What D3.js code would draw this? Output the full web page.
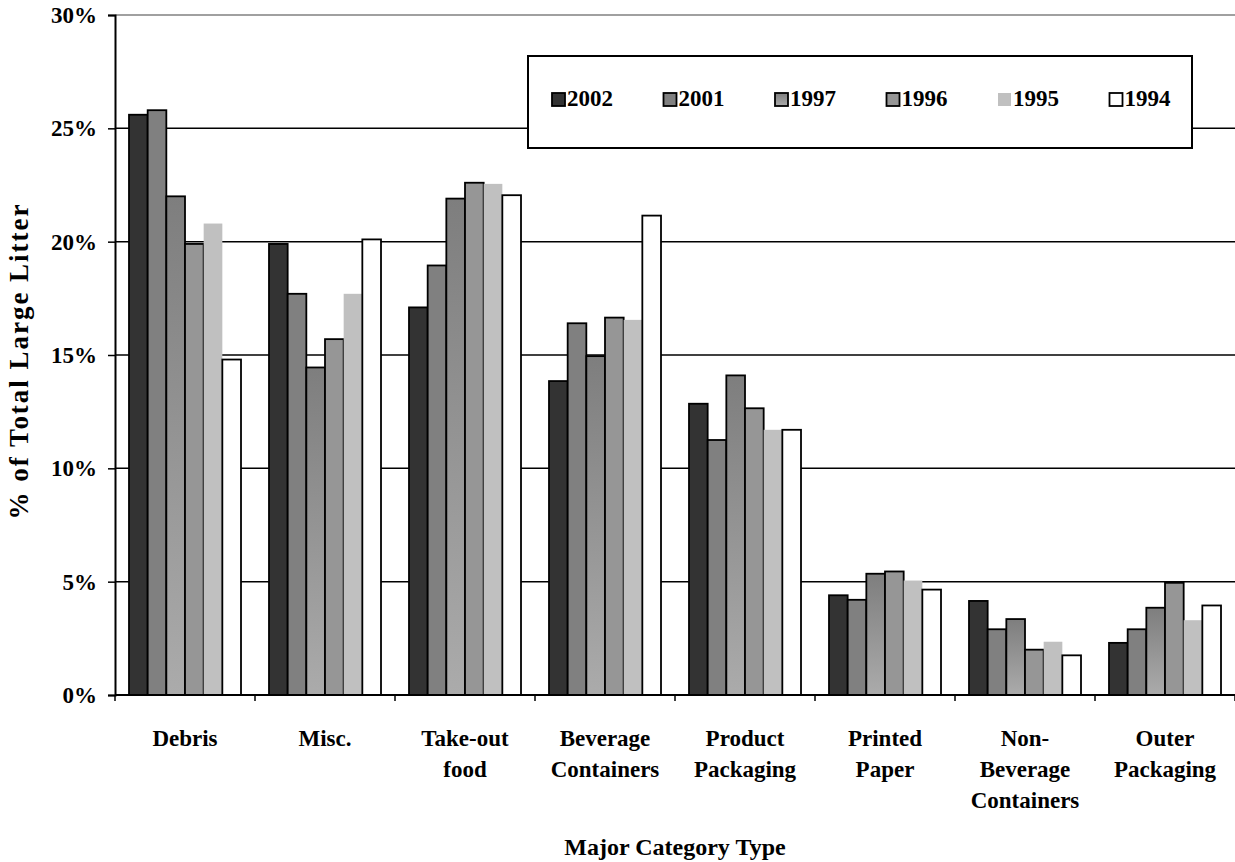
<!DOCTYPE html>
<html>
<head>
<meta charset="utf-8">
<script src="https://cdn.jsdelivr.net/npm/d3@7"></script>
<style>
  html, body { margin: 0; padding: 0; background: #fff; }
  svg { display: block; }
  text { font-family: "Liberation Serif", "Times New Roman", serif; font-weight: bold; fill: #000; }
</style>
</head>
<body>
<svg id="chart" width="1235" height="862"></svg>
<script>
// Share of total large litter by major category, per survey year
const categories = ["Debris", "Misc.", "Take-out food", "Beverage Containers",
  "Product Packaging", "Printed Paper", "Non-Beverage Containers", "Outer Packaging"];
const categoryLines = [["Debris"], ["Misc."], ["Take-out", "food"], ["Beverage", "Containers"],
  ["Product", "Packaging"], ["Printed", "Paper"], ["Non-", "Beverage", "Containers"], ["Outer", "Packaging"]];
const years = ["2002", "2001", "1997", "1996", "1995", "1994"];

const values2002 = [25.6, 19.9, 17.1, 13.85, 12.85, 4.4, 4.15, 2.3];
const values2001 = [25.8, 17.7, 18.95, 16.4, 11.25, 4.2, 2.9, 2.9];
const values1997 = [22.0, 14.45, 21.9, 14.95, 14.1, 5.35, 3.35, 3.85];
const values1996 = [19.9, 15.7, 22.6, 16.65, 12.65, 5.45, 2.0, 4.95];
const values1995 = [20.8, 17.7, 22.55, 16.55, 11.7, 5.05, 2.35, 3.3];
const values1994 = [14.8, 20.1, 22.05, 21.15, 11.7, 4.65, 1.75, 3.95];

const yTicks = [0, 5, 10, 15, 20, 25, 30];

const seriesValues = [values2002, values2001, values1997, values1996, values1995, values1994];

const svg = d3.select("#chart");
const plotLeft = 115, plotRight = 1235, plotTop = 15, plotBottom = 695;

const defs = svg.append("defs");
const grad = defs.append("linearGradient").attr("id", "g1997")
  .attr("x1", 0).attr("y1", 0).attr("x2", 0).attr("y2", 1);
grad.append("stop").attr("offset", "0%").attr("stop-color", "#7e7e7e");
grad.append("stop").attr("offset", "100%").attr("stop-color", "#ababab");

const fills = { "2002": "#333333", "2001": "#808080", "1997": "url(#g1997)",
  "1996": "#969696", "1995": "#c0c0c0", "1994": "#ffffff" };
const strokes = { "2002": "#000", "2001": "#000", "1997": "#000",
  "1996": "#000", "1995": "none", "1994": "#000" };

const x0 = d3.scaleBand().domain(categories).range([plotLeft, plotRight])
  .paddingInner(0.2).paddingOuter(0.1);
const x1 = d3.scaleBand().domain(years).range([0, x0.bandwidth()]);
const y = d3.scaleLinear().domain([0, 30]).range([plotBottom, plotTop]);

// horizontal gridlines
svg.append("g").selectAll("line").data(yTicks.filter(t => t > 0)).join("line")
  .attr("x1", plotLeft).attr("x2", plotRight)
  .attr("y1", d => y(d)).attr("y2", d => y(d))
  .attr("stroke", d => d === 30 ? "#808080" : "#000")
  .attr("stroke-width", 1.5);

// bars
const groups = svg.append("g").selectAll("g").data(categories).join("g")
  .attr("transform", d => `translate(${x0(d)},0)`);
groups.selectAll("rect")
  .data((c, i) => years.map((yr, k) => ({ year: yr, value: seriesValues[k][i] })))
  .join("rect")
  .attr("x", d => x1(d.year))
  .attr("width", x1.bandwidth())
  .attr("y", d => y(d.value))
  .attr("height", d => y(0) - y(d.value))
  .attr("fill", d => fills[d.year])
  .attr("stroke", d => strokes[d.year])
  .attr("stroke-width", 1.8);

// y axis
const yAxis = d3.axisLeft(y).tickValues(yTicks).tickFormat(d => d + "%").tickSize(7).tickPadding(11);
const gy = svg.append("g").attr("transform", `translate(${plotLeft},0)`).call(yAxis);
gy.select(".domain").attr("stroke", "#000").attr("stroke-width", 2);
gy.selectAll(".tick line").attr("stroke", "#000").attr("stroke-width", 1.5);
gy.selectAll(".tick text").style("font-size", "23px").style("font-family", "Liberation Serif, serif")
  .style("font-weight", "bold").attr("fill", "#000");

// x axis line and category separators
svg.append("line").attr("x1", plotLeft).attr("x2", plotRight).attr("y1", plotBottom).attr("y2", plotBottom)
  .attr("stroke", "#000").attr("stroke-width", 2);
const step = x0.step();
svg.append("g").selectAll("line").data(d3.range(categories.length + 1)).join("line")
  .attr("x1", i => plotLeft + i * step).attr("x2", i => plotLeft + i * step)
  .attr("y1", plotBottom).attr("y2", plotBottom + 6)
  .attr("stroke", "#000").attr("stroke-width", 1.5);

// category labels
const lab = svg.append("g").selectAll("text").data(categories).join("text")
  .attr("x", d => x0(d) + x0.bandwidth() / 2)
  .attr("y", 746)
  .attr("text-anchor", "middle")
  .style("font-size", "23px");
lab.selectAll("tspan").data((d, i) => categoryLines[i]).join("tspan")
  .attr("x", function () { return this.parentNode.getAttribute("x"); })
  .attr("dy", (d, j) => j === 0 ? 0 : 31)
  .text(d => d);

// axis titles
svg.append("text").attr("x", 675).attr("y", 855).attr("text-anchor", "middle")
  .style("font-size", "24px").text("Major Category Type");
svg.append("text").attr("transform", `translate(28,362) rotate(-90)`)
  .attr("text-anchor", "middle").style("font-size", "27px")
  .attr("textLength", 315).attr("lengthAdjust", "spacing")
  .text("% of Total Large Litter");

// legend
const legend = svg.append("g");
legend.append("rect").attr("x", 528).attr("y", 56).attr("width", 664).attr("height", 92)
  .attr("fill", "#fff").attr("stroke", "#000").attr("stroke-width", 2);
const items = legend.selectAll("g").data(years).join("g")
  .attr("transform", (d, i) => `translate(${552 + i * 111.5},0)`);
items.append("rect").attr("x", 0).attr("y", 93).attr("width", 13).attr("height", 13)
  .attr("fill", d => fills[d]).attr("stroke", d => strokes[d]).attr("stroke-width", 1.8);
items.append("text").attr("x", 15).attr("y", 106).style("font-size", "23px").text(d => d);
</script>
</body>
</html>
